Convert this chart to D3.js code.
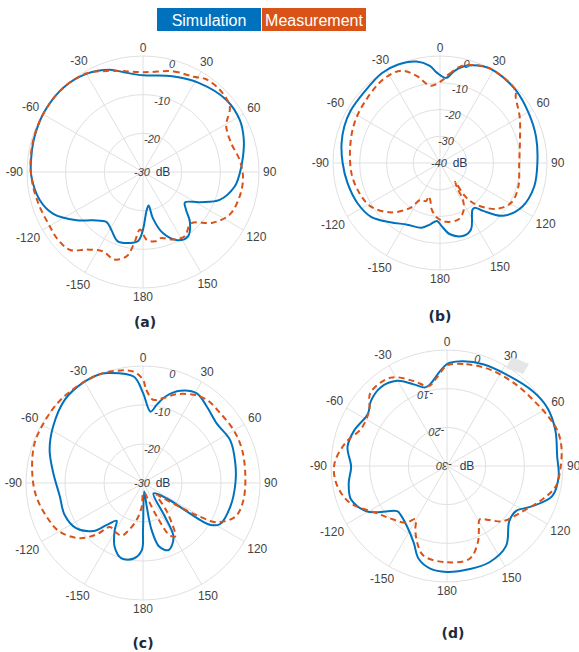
<!DOCTYPE html>
<html>
<head>
<meta charset="utf-8">
<script src="https://cdn.jsdelivr.net/npm/d3@7"></script>
<style>
  body { margin: 0; background: #fff; }
  svg { display: block; }
</style>
</head>
<body>
<svg width="579" height="652"></svg>
<script>

// angle ticks (deg, clockwise from top) and their labels
const thetaTicks = [0, 30, 60, 90, 120, 150, 180, 210, 240, 270, 300, 330];
const thetaLabels = ["0", "30", "60", "90", "120", "150", "180", "-150", "-120", "-90", "-60", "-30"];

const legendNames = ["Simulation", "Measurement"];
const seriesColors = ["#0072BD", "#D95319"];

// [angle deg, gain dB]
const simA = [[0,-5.0],[17,-4.1],[32,-2.8],[49,-1.5],[62,-1.6],[72,-2.6],[81,-3.8],[91,-5.0],[99,-6.0],[110,-8.9],
  [118,-13.4],[126,-16.6],[131,-15.3],[137,-12.2],[145,-9.7],[153,-10.2],[162,-13.4],[168,-17.8],[170.5,-21.2],
  [175,-19.8],[180,-15.1],[184,-12.1],[191,-11.3],[200,-10.9],[209,-13.0],[216,-14.0],[226,-12.0],[234,-8.8],
  [245,-4.4],[255,-2.3],[268,-1.1],[275,-0.9],[288,-0.5],[302,-0.1],[317,0],[330,-0.7],[342,-2.2],[350,-3.9]];
const measA = [[0,-4.2],[17,-2.8],[28,-2.1],[34,-1.0],[43,-0.9],[53,-1.9],[61,-5.4],[72,-6.0],[83,-4.8],[93,-4.1],
  [104,-4.2],[116,-5.0],[126,-7.7],[137,-11.8],[147,-10.2],[156,-10.9],[165,-12.3],[170,-11.8],[177,-12.5],
  [183,-15.1],[187,-11.5],[191,-7.8],[198,-6.2],[207,-7.0],[216,-5.2],[223,-2.4],[232,-1.9],[240,-2.1],
  [252,-1.8],[263,-1.3],[275,-0.8],[288,-0.4],[302,-0.1],[317,0],[330,-0.6],[340,-2.2],[348,-3.3]];

const simB = [[4,-8.1],[9,-5.1],[15,-2.4],[24,-0.4],[31,0],[46,-0.7],[61,-2.0],[75,-2.8],[90,-3.6],[104,-3.7],
  [118,-5.2],[130,-9.3],[138,-15.9],[142,-18.8],[145,-18.8],[155,-12.6],[162,-11.4],[172,-13.1],[178.5,-16.4],
  [183,-18.3],[189,-16.8],[196,-14.8],[208,-13.9],[220,-11.1],[232,-7.3],[244,-5.7],[258,-4.6],[270,-3.6],
  [281,-2.5],[291,-1.7],[300,-1.3],[313,-1.2],[327,0],[337,0],[347,-1.1],[354,-3.5],[358,-6.2]];
const measB = [[1,-9.3],[6,-6.5],[13,-2.7],[24,-0.4],[31,0],[46,-0.8],[49,-2.5],[60,-5.6],[74,-8.9],[90,-10.4],
  [107,-9.4],[119,-9.5],[129,-12.8],[139,-19.4],[143,-24.5],[141,-31],[146,-28],[148,-23.8],[154,-20],
  [162,-17.8],[174,-17.9],[183,-19.5],[190,-22.3],[195,-25.8],[199,-26.8],[200,-24.8],[208,-24.4],
  [213.5,-19.9],[225,-13.9],[238,-9.4],[250,-7.8],[263,-6.7],[280,-5.9],[295,-4.7],[310,-3.7],[326,-2.2],
  [337,-2.5],[345,-6.3],[353,-10.9]];

const simC = [[0,-6.9],[6,-11.6],[10,-9.6],[15,-6.9],[22,-4.5],[31,-3.2],[40,-4.5],[51,-5.7],[64,-5.1],[78,-5.8],
  [90,-6.3],[105,-6.8],[118,-7.6],[122,-9.8],[123,-16.5],[123,-22.7],[135,-26.2],[147,-19.6],[150.5,-14.1],
  [159,-11.6],[165.6,-13.1],[169.6,-17.7],[171,-23.8],[172,-27.8],[180,-17.9],[181,-12.8],[187,-10.5],
  [196,-9.9],[204,-12.1],[211,-15.9],[215,-18.2],[221,-15.7],[226,-12.3],[236,-9.3],[248,-8.3],[261,-8.4],
  [276,-6.9],[289.5,-4.6],[302,-2.8],[317,-0.7],[330,0],[338.6,0],[343,-0.5],[355,-2.6]];
const measC = [[0,-3.5],[2,-6.1],[7,-8.5],[13.5,-7.6],[21,-5.6],[30,-3.9],[37.5,-3.1],[48,-3.3],[60,-3.1],
  [71.5,-3.2],[86,-3.7],[100,-3.9],[110,-4.8],[118,-8.6],[121,-14],[123,-18.7],[127,-23.5],[131,-25.3],
  [140,-20.5],[149,-14],[153,-15],[157,-20],[163,-25.5],[172,-27.5],[180,-27.3],[183,-23.9],[190,-20.3],
  [197,-17.3],[202,-15.4],[210,-15.6],[217,-15.9],[222,-12.3],[229,-8.4],[240,-5.2],[251,-3.8],[263,-2.4],
  [275,-1.5],[290,-0.4],[304,-0.2],[315,0],[326,0],[337,0],[343.5,-0.2],[355,-1.3]];

const simD = [[1.6,-3.3],[8.8,-2.6],[19.5,-2.1],[32.8,-1.8],[48.6,-0.6],[60,0],[71.8,-0.5],[85.2,-1.4],[95.4,-1.0],
  [106,-1.7],[115.2,-5.6],[123.2,-8.7],[131.5,-8.5],[143.5,-4.3],[156.2,-2.8],[167.5,-2.7],[180.2,-2.6],
  [189.3,-3.1],[197,-4.9],[203.5,-8.4],[213.6,-11.3],[223.8,-12.6],[227.8,-12.6],[236.4,-8.4],[240.9,-6.0],
  [250.7,-3.7],[260.1,-4.2],[269.6,-5.2],[280.9,-3.8],[291,-4.3],[303.3,-5.5],[310.6,-4.1],[319.8,-3.4],
  [329.7,-4.5],[337.8,-7.2],[344.5,-8.9],[348.4,-8.4],[355.8,-5.4],[359.8,-3.7]];
const measD = [[0,-3.9],[10.8,-3.2],[23.8,-2.7],[40.1,-2.4],[54.3,-1.8],[64.4,-0.8],[72.3,0],[80.6,0],[92,-0.7],
  [100.7,-1.4],[109.4,-3.9],[121,-7.2],[134.7,-9.7],[141.8,-12.2],[148.6,-13.8],[153.2,-11.7],[158,-8.7],
  [166.3,-5.3],[180.2,-5.1],[194.6,-6.0],[201.4,-8.8],[206.6,-11.7],[210.6,-14.0],[216.2,-11.8],[226.9,-10.1],
  [237.6,-7.7],[249.3,-3.1],[261.2,-1.0],[271.3,-0.9],[283.4,-3.2],[293.4,-5.8],[305.4,-5.3],[313.7,-2.6],
  [327.5,-2.9],[338.6,-6.4],[347,-8.8],[353.4,-7.0],[357.9,-4.8]];

const panels = [
  {cap: "(a)", cx: 143, cy: 172, R: 116, rMin: -30, rTicks: [-20, -10, 0], sim: simA, meas: measA, capX: 145, capY: 322},
  {cap: "(b)", cx: 440, cy: 163, R: 107, rMin: -40, rTicks: [-30, -20, -10, 0], sim: simB, meas: measB, capX: 440, capY: 316},
  {cap: "(c)", cx: 143, cy: 483, R: 117, rMin: -30, rTicks: [-20, -10, 0], sim: simC, meas: measC, capX: 143, capY: 643},
  {cap: "(d)", cx: 447, cy: 466, R: 116, rMin: -30, rTicks: [-20, -10, 0], sim: simD, meas: measD, capX: 453, capY: 633, flip: true}
];

const svg = d3.select("svg");
const rad = Math.PI / 180;

// legend
const leg = svg.append("g");
legendNames.forEach(function(name, i) {
  leg.append("rect")
    .attr("x", 157 + i * 105).attr("y", 8)
    .attr("width", 104).attr("height", 23)
    .attr("fill", seriesColors[i]);
  leg.append("text")
    .attr("x", 157 + i * 105 + 52).attr("y", 20)
    .attr("text-anchor", "middle").attr("dominant-baseline", "central")
    .attr("fill", "#fff")
    .style("font", "16px 'Liberation Sans', Arial, sans-serif")
    .text(name);
});

panels.forEach(function(p) {
  const g = svg.append("g").attr("transform", "translate(" + p.cx + "," + p.cy + ")");
  const r = d3.scaleLinear().domain([p.rMin, 0]).range([0, p.R]);

  g.selectAll("circle.ring")
    .data(p.rTicks).enter()
    .append("circle")
      .attr("class", "ring")
      .attr("r", d => r(d))
      .attr("fill", "none")
      .attr("stroke", "#e0e0e0")
      .attr("stroke-width", 1);

  g.selectAll("line.spoke")
    .data(thetaTicks).enter()
    .append("line")
      .attr("class", "spoke")
      .attr("x1", 0).attr("y1", 0)
      .attr("x2", d => r(0) * Math.sin(d * rad))
      .attr("y2", d => -r(0) * Math.cos(d * rad))
      .attr("stroke", "#e0e0e0")
      .attr("stroke-width", 1);

  // angle labels outside the outer ring
  g.selectAll("text.theta")
    .data(thetaTicks).enter()
    .append("text")
      .attr("class", "theta")
      .attr("text-anchor", "middle")
      .attr("dominant-baseline", "central")
      .attr("fill", "#444")
      .style("font", "12px 'Liberation Sans', Arial, sans-serif")
      .text((d, i) => thetaLabels[i])
      .each(function(d) {
        const w = this.getComputedTextLength();
        const off = p.R + 4 + Math.abs(Math.sin(d * rad)) * w / 2 + Math.abs(Math.cos(d * rad)) * 4.5;
        d3.select(this)
          .attr("x", off * Math.sin(d * rad))
          .attr("y", -off * Math.cos(d * rad));
      });

  // radial tick labels
  const rl = g.selectAll("text.rtick")
    .data(p.rTicks).enter()
    .append("text")
      .attr("class", "rtick")
      .attr("text-anchor", "middle")
      .attr("dominant-baseline", "central")
      .attr("fill", "#444")
      .style("font", "italic 11px 'Liberation Sans', Arial, sans-serif")
      .text(d => d);
  if (p.flip) {
    rl.attr("transform", function(d) {
      const a = (d === 0 ? 16 : -17) * rad, rr = r(d) - (d === 0 ? 5 : 3);
      return "translate(" + (rr * Math.sin(a)) + "," + (-rr * Math.cos(a)) + ") rotate(180)";
    });
  } else {
    rl.attr("x", d => (r(d) - 4) * Math.sin(15 * rad))
      .attr("y", d => -(r(d) - 4) * Math.cos(15 * rad));
  }

  g.append("text")
    .attr("text-anchor", "middle").attr("dominant-baseline", "central")
    .attr("fill", "#444")
    .attr("transform", p.flip ? "translate(-3,0) rotate(180)" : "translate(-1,0)")
    .style("font", "italic 11px 'Liberation Sans', Arial, sans-serif")
    .text(p.rMin);
  g.append("text")
    .attr("x", 20).attr("y", 0)
    .attr("text-anchor", "middle").attr("dominant-baseline", "central")
    .attr("fill", "#243b5e")
    .style("font", "12px 'Liberation Sans', Arial, sans-serif")
    .text("dB");

  const line = d3.lineRadial()
    .angle(d => d[0] * rad)
    .radius(d => r(Math.min(d[1], 0)))
    .curve(d3.curveCatmullRomClosed.alpha(0.5));

  g.append("path")
    .datum(p.sim)
    .attr("d", line)
    .attr("fill", "none")
    .attr("stroke", seriesColors[0])
    .attr("stroke-width", 2);

  g.append("path")
    .datum(p.meas)
    .attr("d", line)
    .attr("fill", "none")
    .attr("stroke", seriesColors[1])
    .attr("stroke-width", 2)
    .attr("stroke-dasharray", "6,4");

  svg.append("text")
    .attr("x", p.capX).attr("y", p.capY)
    .attr("text-anchor", "middle").attr("dominant-baseline", "central")
    .attr("fill", "#1b2b3d")
    .style("font", "bold 14px 'DejaVu Sans', sans-serif")
    .text(p.cap);
});

// light grey tab over the 30 label of plot (d)
svg.append("polygon")
  .attr("points", "512,357 529,364 523,374 506,368")
  .attr("fill", "#e6e6e6");

</script>
</body>
</html>
